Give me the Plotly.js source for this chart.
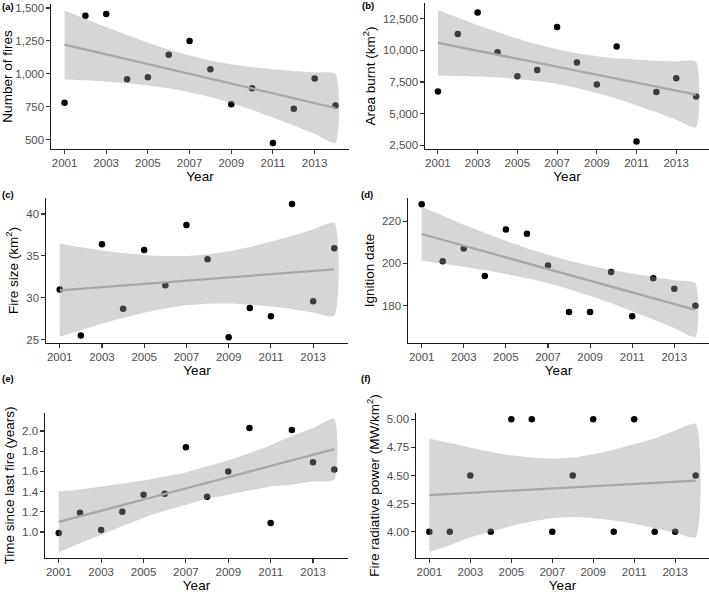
<!DOCTYPE html>
<html>
<head>
<meta charset="utf-8">
<script src="https://cdn.plot.ly/plotly-3.0.1.min.js"></script>
<style>html,body{margin:0;padding:0;background:#fff;}#chart{width:709px;height:596px;}</style>
</head>
<body>
<div id="chart"></div>
<script>
// ---- data ----
const years = [2001,2002,2003,2004,2005,2006,2007,2008,2009,2010,2011,2012,2013,2014];
const fitYears = [2001, 2014];
const xTickVals = [2001,2003,2005,2007,2009,2011,2013];

// (a) Number of fires
const numFires      = [780,1440,1455,960,975,1145,1250,1035,770,890,475,735,965,760];
const numFiresFit   = [1222, 741];
const numFiresUpper = [1480,1418,1355,1294,1236,1184,1139,1102,1073,1051,1035,1022,1011,1000];
const numFiresLower = [958,952,941,928,912,890,861,824,779,727,669,608,545,475];

// (b) Area burnt (km2)
const areaBurnt      = [6750,11300,13000,9850,7950,8450,11850,9050,7300,10300,2800,6700,7800,6350];
const areaBurntFit   = [10600, 6510];
const areaBurntUpper = [13190,12590,12010,11460,10950,10480,10090,9770,9540,9370,9260,9180,9130,9100];
const areaBurntLower = [8020,7980,7930,7850,7740,7570,7340,7030,6630,6170,5650,5100,4520,3930];

// (c) Fire size (km2)
const fireSize      = [31.0,25.5,36.4,28.7,35.7,31.5,38.7,34.6,25.3,28.8,27.8,41.2,29.6,35.9];
const fireSizeFit   = [30.9, 33.4];
const fireSizeUpper = [36.45,36.04,35.66,35.35,35.11,34.98,35.00,35.20,35.56,36.07,36.69,37.40,38.16,38.95];
const fireSizeLower = [25.35,26.14,26.90,27.61,28.23,28.74,29.10,29.30,29.32,29.19,28.95,28.64,28.26,27.85];

// (d) Ignition date
const ignition      = [228,201,207,194,216,214,199,177,177,196,175,193,188,180];
const ignitionFit   = [213.9, 178.0];
const ignitionUpper = [226.6,222.5,218.4,214.5,210.7,207.2,204.1,201.3,199.0,196.9,195.2,193.6,192.1,190.7];
const ignitionLower = [201.2,199.8,198.4,196.8,195.0,193.0,190.6,187.8,184.7,181.2,177.4,173.5,169.4,165.3];

// (e) Time since last fire (years)
const timeSince      = [0.99,1.19,1.02,1.20,1.37,1.38,1.84,1.35,1.60,2.03,1.09,2.01,1.69,1.62];
const timeSinceFit   = [1.10, 1.82];
const timeSinceUpper = [1.40,1.42,1.45,1.48,1.51,1.55,1.59,1.65,1.71,1.78,1.86,1.95,2.03,2.12];
const timeSinceLower = [0.80,0.89,0.97,1.06,1.14,1.21,1.27,1.33,1.37,1.41,1.45,1.47,1.50,1.52];

// (f) Fire radiative power (MW/km2)
const frp      = [4.0,4.0,4.5,4.0,5.0,5.0,4.0,4.5,5.0,4.0,5.0,4.0,4.0,4.5];
const frpFit   = [4.326, 4.454];
const frpUpper = [4.83,4.79,4.75,4.71,4.68,4.66,4.65,4.66,4.69,4.73,4.78,4.83,4.90,4.96];
const frpLower = [3.82,3.88,3.95,4.00,4.05,4.09,4.12,4.13,4.12,4.10,4.07,4.03,3.99,3.95];

// ---- panel definitions (style / layout) ----
const W = 709, H = 596;
const panels = [
  {lab:'(a)', title:'Number of fires', y:numFires, fit:numFiresFit, up:numFiresUpper, lo:numFiresLower,
   px:[51,349], py:[4,149], range:[430,1530], tickvals:[500,750,1000,1250,1500], fmt:',', labPos:[0,7]},
  {lab:'(b)', title:'Area burnt (km<sup>2</sup>)', y:areaBurnt, fit:areaBurntFit, up:areaBurntUpper, lo:areaBurntLower,
   px:[425,709], py:[3,149], range:[2200,13750], tickvals:[2500,5000,7500,10000,12500], fmt:',', labPos:[360,5]},
  {lab:'(c)', title:'Fire size (km<sup>2</sup>)', y:fireSize, fit:fireSizeFit, up:fireSizeUpper, lo:fireSizeLower,
   px:[46,348], py:[198,343], range:[24.61,41.91], tickvals:[25,30,35,40], fmt:'', labPos:[0,194]},
  {lab:'(d)', title:'Ignition date', y:ignition, fit:ignitionFit, up:ignitionUpper, lo:ignitionLower,
   px:[408,709], py:[198,343], range:[162.4,230.9], tickvals:[180,200,220], fmt:'', labPos:[359,194]},
  {lab:'(e)', title:'Time since last fire (years)', y:timeSince, fit:timeSinceFit, up:timeSinceUpper, lo:timeSinceLower,
   px:[45,348], py:[413,558], range:[0.743,2.178], tickvals:[1.0,1.2,1.4,1.6,1.8,2.0], fmt:'.1f', labPos:[0,378]},
  {lab:'(f)', title:'Fire radiative power (MW/km<sup>2</sup>)', y:frp, fit:frpFit, up:frpUpper, lo:frpLower,
   px:[416,709], py:[413,558], range:[3.766,5.056], tickvals:[4.0,4.25,4.5,4.75,5.0], fmt:'.2f', labPos:[359,378]}
];

const FONT = 'Liberation Sans, Arial, sans-serif';
const traces = [];
const layout = {
  width: W, height: H,
  margin: {l:0, r:0, t:0, b:0},
  paper_bgcolor: '#ffffff', plot_bgcolor: 'rgba(0,0,0,0)',
  showlegend: false,
  font: {family: FONT, color: '#000'},
  annotations: []
};

panels.forEach((p, i) => {
  const n = i === 0 ? '' : String(i + 1);
  const xa = 'x' + n, ya = 'y' + n;
  // points
  traces.push({type:'scatter', mode:'markers', x:years, y:p.y, xaxis:xa, yaxis:ya,
    marker:{color:'#000000', size:6.5}, cliponaxis:false, hoverinfo:'skip'});
  // confidence ribbon (drawn over points, semi-transparent like ggplot)
  traces.push({type:'scatter', mode:'lines', x:years.concat(years.slice().reverse()),
    y:p.up.concat(p.lo.slice().reverse()), xaxis:xa, yaxis:ya, fill:'toself',
    fillcolor:'rgba(153,153,153,0.4)', line:{width:0, shape:'spline', smoothing:0.6}, hoverinfo:'skip'});
  // fitted line
  traces.push({type:'scatter', mode:'lines', x:fitYears, y:p.fit, xaxis:xa, yaxis:ya,
    line:{color:'#a8a8a8', width:2.3}, hoverinfo:'skip'});

  const axBase = {
    showgrid:false, zeroline:false, showline:true, linecolor:'#1a1a1a', linewidth:1.1,
    ticks:'outside', ticklen:3.5, tickwidth:1.1, tickcolor:'#333333',
    tickfont:{family:FONT, size:11.5, color:'#4d4d4d'}, automargin:false, fixedrange:true
  };
  layout['xaxis' + n] = Object.assign({}, axBase, {
    domain:[p.px[0]/W, p.px[1]/W], anchor:ya, range:[2000.35, 2014.65],
    tickvals:xTickVals, ticktext:xTickVals.map(String),
    title:{text:'Year', font:{family:FONT, size:13.5, color:'#000'}, standoff:3}
  });
  layout['yaxis' + n] = Object.assign({}, axBase, {
    domain:[1 - p.py[1]/H, 1 - p.py[0]/H], anchor:xa, range:p.range,
    tickvals:p.tickvals, tickformat:p.fmt,
    title:{text:p.title, font:{family:FONT, size:13.5, color:'#000'}, standoff:4}
  });
  layout.annotations.push({text:'<b>' + p.lab + '</b>', xref:'paper', yref:'paper',
    x:p.labPos[0]/W, y:1 - p.labPos[1]/H, xanchor:'left', yanchor:'middle', showarrow:false,
    font:{family:FONT, size:9.5, color:'#000'}});
});

Plotly.newPlot('chart', traces, layout, {staticPlot:true, displayModeBar:false});
</script>
</body>
</html>
